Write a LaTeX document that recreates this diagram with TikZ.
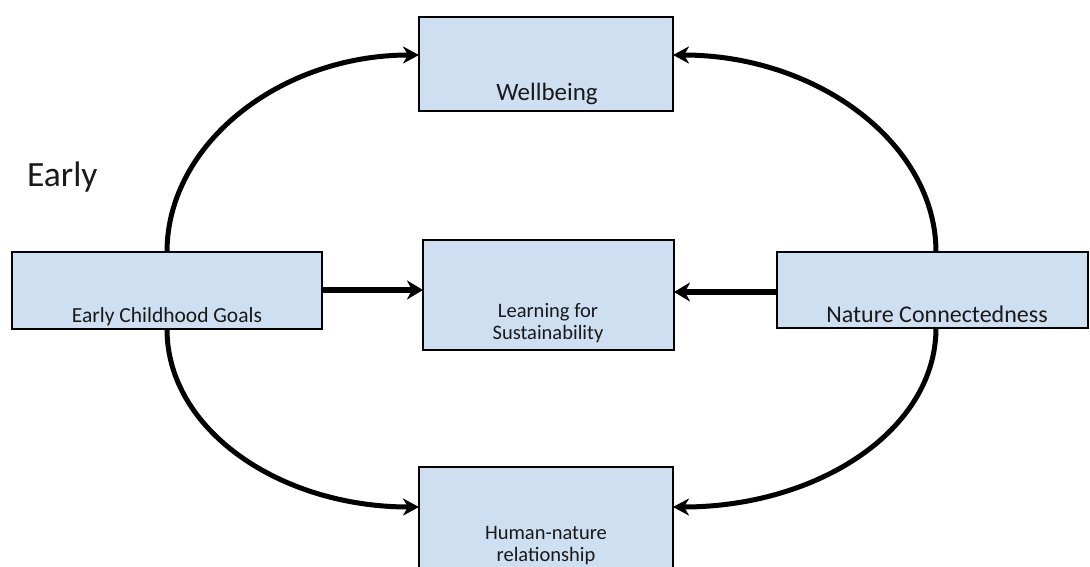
\documentclass[tikz,border=0pt]{standalone}
\usepackage{fontspec}
\setmainfont{Carlito}
\usetikzlibrary{arrows.meta}
\definecolor{boxfill}{RGB}{207,223,242}
\tikzset{
  box/.style={draw=black, line width=2.2pt, fill=boxfill, rectangle},
  lbl/.style={anchor=base, inner sep=0pt, text=black!90},
  curvearrow/.style={line width=5pt, -{Stealth[length=16pt,width=17pt,inset=5pt]}},
  straightarrow/.style={line width=5.8pt, -{Stealth[length=16pt,width=19pt,inset=5pt]}},
}
\begin{document}
\begin{tikzpicture}[x=1pt,y=-1pt]
\useasboundingbox (0,0) rectangle (1090,566);
\clip (0,0) rectangle (1090,566);
% boxes
\draw[box] (419,17) rectangle (673,111);
\coordinate (wbL) at (419,55); \coordinate (wbR) at (673,55);
\draw[box] (423,240) rectangle (674,350);
\coordinate (lsL) at (423,290); \coordinate (lsR) at (674,292);
\draw[box] (12,252) rectangle (322,329);
\coordinate (ecT) at (167,252); \coordinate (ecB) at (167,329); \coordinate (ecR) at (322,290);
\draw[box] (777,252) rectangle (1088,328);
\coordinate (ncT) at (936,252); \coordinate (ncB) at (936,328); \coordinate (ncL) at (777,292);
\draw[box] (419,467) rectangle (673,600);
\coordinate (hnL) at (419,507); \coordinate (hnR) at (673,507);
% labels
\node[lbl, font=\fontsize{25}{30}\selectfont] (wbt) at (547,100) {Wellbeing};
\node[lbl, font=\fontsize{20.5}{24}\selectfont] (ls1) at (548,317) {Learning for};
\node[lbl, font=\fontsize{20.5}{24}\selectfont] (ls2) at (548,339) {Sustainability};
\node[lbl, font=\fontsize{21.5}{26}\selectfont] (ect) at (167,322) {Early Childhood Goals};
\node[lbl, font=\fontsize{24}{29}\selectfont] (nct) at (937,322) {Nature Connectedness};
\node[lbl, font=\fontsize{20.5}{24}\selectfont] (hn1) at (546,539) {Human-nature};
\node[lbl, font=\fontsize{20.5}{24}\selectfont] (hn2) at (546,561) {relationship};
\node[lbl, anchor=base west, font=\fontsize{35.5}{42}\selectfont] (early) at (27,186) {Early};
% connectors
\draw[straightarrow] (ecR) -- (lsL);
\draw[straightarrow] (ncL) -- (lsR);
\draw[curvearrow] (ecT) .. controls (167,144) and (280,55) .. (wbL);
\draw[curvearrow] (ncT) .. controls (936,144) and (818,55) .. (wbR);
\draw[curvearrow] (ecB) .. controls (167,430) and (280,507) .. (hnL);
\draw[curvearrow] (ncB) .. controls (936,430) and (818,507) .. (hnR);
\end{tikzpicture}
\end{document}
